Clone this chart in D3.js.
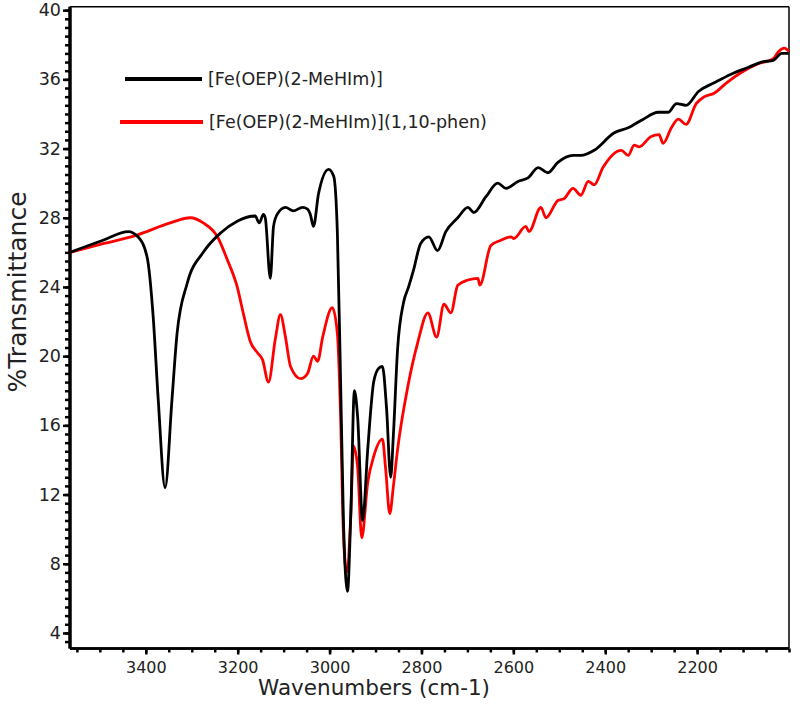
<!DOCTYPE html>
<html><head><meta charset="utf-8">
<script src="https://cdn.jsdelivr.net/npm/d3@7"></script>
<style>body{margin:0;background:#fff}svg{display:block}text{font-family:"DejaVu Sans",sans-serif;fill:#222}</style>
</head><body><svg id="c" width="800" height="709"></svg>
<script>
const seriesNames = ["[Fe(OEP)(2-MeHIm)]", "[Fe(OEP)(2-MeHIm)](1,10-phen)"];
const seriesColors = ["#000000", "#ff0000"];
const blackWn = [3565,3493,3438,3417,3397,3384,3373,3358,3343,3332,3310,3275,3238,3201,3162,3153,3144,3140,3129,3122,3114,3096,3079,3059,3048,3042,3035,3024,3002,2991,2983,2976,2970,2961,2954,2946,2939,2928,2917,2904,2893,2885,2876,2867,2861,2852,2839,2828,2817,2802,2784,2765,2747,2721,2699,2686,2660,2634,2616,2590,2568,2546,2525,2503,2470,2453,2424,2381,2350,2317,2285,2263,2245,2224,2197,2163,2126,2088,2060,2034,2016,2001];
const blackT = [26.0,26.7,27.2,26.9,25.7,22.3,17.5,12.4,17.5,21.3,24.2,26.0,27.1,27.8,28.1,27.7,28.2,28.0,24.5,27.5,28.2,28.6,28.4,28.6,28.5,28.2,27.5,29.4,30.8,30.4,27.1,18.5,10.7,6.4,10.7,18.0,16.5,10.5,14.6,18.5,19.3,19.4,17.0,13.0,15.5,20.4,23.1,24.0,25.0,26.5,26.9,26.1,27.2,28.0,28.6,28.3,29.2,30.0,29.7,30.1,30.3,30.9,30.6,31.2,31.6,31.6,31.9,32.9,33.2,33.7,34.1,34.1,34.6,34.5,35.3,35.8,36.3,36.7,37.0,37.1,37.5,37.5];
const redWn = [3565,3493,3419,3347,3303,3275,3244,3223,3201,3188,3172,3157,3146,3133,3118,3107,3096,3085,3063,3048,3035,3026,3015,2994,2983,2976,2970,2963,2954,2948,2939,2930,2917,2904,2885,2878,2869,2861,2852,2830,2808,2786,2767,2751,2736,2721,2699,2677,2673,2649,2627,2605,2599,2573,2566,2540,2529,2503,2490,2470,2453,2437,2424,2405,2365,2350,2337,2326,2300,2283,2274,2256,2241,2224,2202,2184,2163,2136,2104,2067,2034,2023,2010,2000];
const redT = [26.0,26.5,27.0,27.7,28.0,27.7,26.9,25.6,24.0,22.5,20.8,20.2,19.8,18.5,21.0,22.4,21.1,19.4,18.7,19.0,20.0,19.7,21.1,22.8,21.3,16.5,9.8,7.5,10.7,14.8,13.6,9.5,12.7,14.2,15.2,13.5,10.9,12.5,14.6,18.2,20.8,22.5,21.1,23.0,22.5,24.1,24.4,24.5,24.1,26.4,26.7,26.9,26.8,27.5,27.2,28.6,28.0,29.0,29.1,29.7,29.3,30.1,29.9,30.9,31.9,31.6,32.2,32.1,32.7,32.8,32.3,33.2,33.7,33.4,34.6,35.0,35.2,35.8,36.4,36.9,37.2,37.6,37.8,37.6];
const xTickLabels = [3400,3200,3000,2800,2600,2400,2200];
const yTickLabels = [4,8,12,16,20,24,28,32,36,40];

const svg = d3.select("#c");
const L=70, R=789, T=6.7, B=648.5;
const x = d3.scaleLinear().domain([3565,2000]).range([L,R]);
const y = d3.scaleLinear().domain([3.1,40.2]).range([B,T]);

// frame
svg.append("line").attr("x1",L).attr("x2",R).attr("y1",T).attr("y2",T).attr("stroke","#000").attr("stroke-width",1.5);
svg.append("line").attr("x1",R).attr("x2",R).attr("y1",T).attr("y2",B).attr("stroke","#000").attr("stroke-width",1.5);

// y axis
const yMinor = d3.range(3.5,40.01,0.5);
const yAx = svg.append("g").attr("transform",`translate(${L},0)`);
yAx.call(d3.axisLeft(y).tickValues(yMinor).tickSize(5).tickFormat(""));
yAx.append("g").call(d3.axisLeft(y).tickValues(yTickLabels).tickSize(7).tickPadding(2).tickFormat(d3.format("d")));
yAx.selectAll("path.domain").attr("stroke","#000").attr("stroke-width",3).attr("d",`M0,${T}V${B}`);
yAx.selectAll(".tick line").attr("stroke","#000").attr("stroke-width",2.5);
yAx.selectAll("text").attr("font-size",17.5).attr("fill","#222").style("font-family","DejaVu Sans");

// x axis
const xMinor = d3.range(2000,3565,50);
const xAx = svg.append("g").attr("transform",`translate(0,${B})`);
xAx.call(d3.axisBottom(x).tickValues(xMinor).tickSize(4).tickFormat(""));
xAx.append("g").call(d3.axisBottom(x).tickValues(xTickLabels).tickSize(6).tickPadding(7).tickFormat(d3.format("d")));
xAx.selectAll("path.domain").attr("stroke","#000").attr("stroke-width",2.5).attr("d",`M${L},0H${R}`);
xAx.selectAll(".tick line").attr("stroke","#000").attr("stroke-width",2.5);
xAx.selectAll("text").attr("font-size",16).attr("fill","#222").style("font-family","DejaVu Sans");

// titles
svg.append("text").attr("x",374).attr("y",695).attr("text-anchor","middle").attr("font-size",21.5).text("Wavenumbers (cm-1)");
svg.append("text").attr("transform","translate(26,292) rotate(-90)").attr("text-anchor","middle").attr("font-size",25).text("%Transmittance");

// lines
const line = d3.line().x(d=>x(d[0])).y(d=>y(d[1])).curve(d3.curveMonotoneX);
const series = [d3.zip(blackWn,blackT), d3.zip(redWn,redT)];
[1,0].forEach(i=>{
  svg.append("path").datum(series[i]).attr("fill","none").attr("stroke",seriesColors[i]).attr("stroke-width",2.8).attr("stroke-linejoin","round").attr("d",line);
});

// legend
const leg = [{y:79,x1:125,x2:202},{y:122,x1:120,x2:203}];
leg.forEach((g,i)=>{
  svg.append("line").attr("x1",g.x1).attr("x2",g.x2).attr("y1",g.y).attr("y2",g.y).attr("stroke",seriesColors[i]).attr("stroke-width",4);
  svg.append("text").attr("x",g.x2+6).attr("y",g.y+6).attr("font-size",17.5).text(seriesNames[i]);
});
</script></body></html>
